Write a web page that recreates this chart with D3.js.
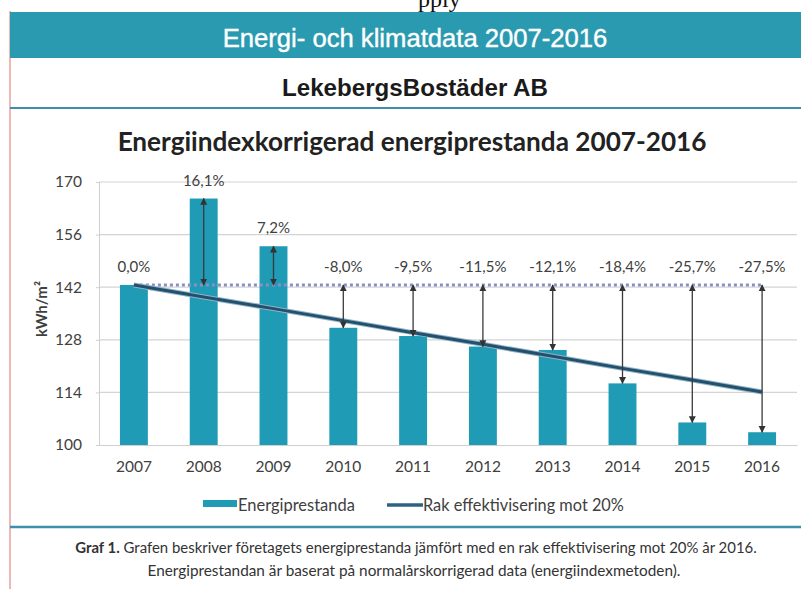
<!DOCTYPE html>
<html>
<head>
<meta charset="utf-8">
<script src="https://cdn.jsdelivr.net/npm/d3@7"></script>
<style>
  body { margin: 0; background: #fff; }
  svg { display: block; }
</style>
</head>
<body>
<svg></svg>
<script>
var w = 801;
var h = 589;

// data
var years = ["2007", "2008", "2009", "2010", "2011", "2012", "2013", "2014", "2015", "2016"];
var energi = [142.6, 165.6, 152.9, 131.2, 129.0, 126.2, 125.3, 116.4, 106.0, 103.4];
var rak = [142.6, 139.4, 136.3, 133.1, 129.9, 126.8, 123.6, 120.4, 117.3, 114.1];
var pctLabels = ["0,0%", "16,1%", "7,2%", "-8,0%", "-9,5%", "-11,5%", "-12,1%", "-18,4%", "-25,7%", "-27,5%"];
var yTicks = [100, 114, 128, 142, 156, 170];
var baseValue = 142.6;

var teal = "#1f9bb5";
var band = "#2a9ab0";
var dark = "#404040";
var calibri = "Lato, 'Open Sans', sans-serif";

var svg = d3.select("svg")
    .attr("width", w)
    .attr("height", h);

// shrink/grow a text until it has the wanted width
function fit(sel, width) {
  var fs = parseFloat(sel.style("font-size"));
  var len = sel.node().getComputedTextLength();
  sel.style("font-size", (fs * width / len) + "px");
}

// scanned page fragment on top (cut by the page edge like in the scan)
svg.append("text")
    .attr("x", 418)
    .attr("y", 7)
    .style("font-family", "'Liberation Serif', serif")
    .style("font-size", "24px")
    .style("fill", "#111")
    .text("pply");

// page border left
svg.append("line")
    .attr("x1", 10).attr("x2", 10)
    .attr("y1", 11).attr("y2", h)
    .style("stroke", "#e8a0a0")
    .style("stroke-width", 1.5);

// header band
svg.append("rect")
    .attr("x", 10).attr("y", 12)
    .attr("width", w - 10).attr("height", 46)
    .style("fill", band);

var head = svg.append("text")
    .attr("x", 415).attr("y", 47)
    .attr("text-anchor", "middle")
    .style("font-family", "'Liberation Sans', Arial, sans-serif")
    .style("font-size", "22px")
    .style("fill", "#fff")
    .style("stroke", "#fff")
    .style("stroke-width", 0.4)
    .text("Energi- och klimatdata 2007-2016");
fit(head, 385);

var company = svg.append("text")
    .attr("x", 415).attr("y", 96)
    .attr("text-anchor", "middle")
    .style("font-family", "'Liberation Sans', Arial, sans-serif")
    .style("font-weight", "bold")
    .style("font-size", "21px")
    .style("fill", "#1a1a1a")
    .text("LekebergsBostäder AB");
fit(company, 266);

svg.append("line")
    .attr("x1", 10).attr("x2", w)
    .attr("y1", 108).attr("y2", 108)
    .style("stroke", "#3d8fab")
    .style("stroke-width", 2);

var title = svg.append("text")
    .attr("x", 412).attr("y", 151)
    .attr("text-anchor", "middle")
    .style("font-family", calibri)
    .style("font-weight", "bold")
    .style("font-size", "24px")
    .style("fill", "#222")
    .text("Energiindexkorrigerad energiprestanda 2007-2016");
fit(title, 589);

// scales
var xScale = d3.scaleBand()
    .domain(years)
    .range([99, 797])
    .paddingInner(0.6)
    .paddingOuter(0.3);

var yScale = d3.scaleLinear()
    .domain([100, 170])
    .range([445, 182]);

function cx(d) { return xScale(d) + xScale.bandwidth() / 2; }

// gridlines
svg.append("g")
    .selectAll("line")
    .data(yTicks.slice(1))
    .join("line")
    .attr("x1", 99).attr("x2", 797)
    .attr("y1", function (d) { return yScale(d); })
    .attr("y2", function (d) { return yScale(d); })
    .style("stroke", "#d4d4d4")
    .style("stroke-width", 1.2);

// y axis
var yAxis = d3.axisLeft(yScale)
    .tickValues(yTicks)
    .tickSize(3)
    .tickPadding(14);
var gy = svg.append("g")
    .attr("transform", "translate(99,0)")
    .call(yAxis);
gy.select(".domain").style("stroke", "#cfcfcf");
gy.selectAll(".tick line").style("stroke", "#cfcfcf");
gy.selectAll(".tick text")
    .style("font-family", calibri)
    .style("font-size", "15.5px")
    .style("fill", dark);

// x axis
var xAxis = d3.axisBottom(xScale)
    .tickSize(0)
    .tickPadding(16);
var gx = svg.append("g")
    .attr("transform", "translate(0,445)")
    .call(xAxis);
gx.select(".domain").style("stroke", "#cfcfcf");
gx.selectAll(".tick text")
    .style("font-family", calibri)
    .style("font-size", "15.5px")
    .style("fill", dark);

// bars
svg.append("g")
    .selectAll("rect")
    .data(years)
    .join("rect")
    .attr("x", function (d) { return xScale(d); })
    .attr("width", xScale.bandwidth())
    .attr("y", function (d, i) { return yScale(energi[i]); })
    .attr("height", function (d, i) { return yScale(100) - yScale(energi[i]); })
    .style("fill", teal);

// baseline 2007 level (dotted)
svg.append("line")
    .attr("x1", cx(years[0]))
    .attr("x2", cx(years[years.length - 1]))
    .attr("y1", yScale(baseValue))
    .attr("y2", yScale(baseValue))
    .style("stroke", "#8c8fc2")
    .style("stroke-width", 3)
    .style("stroke-dasharray", "3,3");

// straight efficiency line
var line = d3.line()
    .x(function (d, i) { return cx(years[i]); })
    .y(function (d) { return yScale(d); });

svg.append("path")
    .datum(rak)
    .attr("d", line)
    .style("fill", "none")
    .style("stroke", "#8fb4c6")
    .style("stroke-width", 5);
svg.append("path")
    .datum(rak)
    .attr("d", line)
    .style("fill", "none")
    .style("stroke", "#24506d")
    .style("stroke-width", 3);

// arrow markers
var defs = svg.append("defs");
defs.append("marker")
    .attr("id", "head")
    .attr("viewBox", "0 0 10 10")
    .attr("refX", 9).attr("refY", 5)
    .attr("markerWidth", 7).attr("markerHeight", 8)
    .attr("markerUnits", "userSpaceOnUse")
    .attr("orient", "auto-start-reverse")
    .append("path")
    .attr("d", "M0,0L10,5L0,10Z")
    .style("fill", "#333");

svg.append("g")
    .selectAll("line")
    .data(years.slice(1))
    .join("line")
    .attr("x1", function (d) { return cx(d); })
    .attr("x2", function (d) { return cx(d); })
    .attr("y1", yScale(baseValue))
    .attr("y2", function (d, i) { return yScale(energi[i + 1]); })
    .attr("marker-start", "url(#head)")
    .attr("marker-end", "url(#head)")
    .style("stroke", "#3a3a3a")
    .style("stroke-width", 1.3);

// percentage labels
svg.append("g")
    .selectAll("text")
    .data(years)
    .join("text")
    .attr("x", function (d) { return cx(d); })
    .attr("y", function (d, i) { return yScale(Math.max(energi[i], baseValue)) - 13; })
    .attr("text-anchor", "middle")
    .style("font-family", calibri)
    .style("font-size", "15px")
    .style("fill", dark)
    .text(function (d, i) { return pctLabels[i]; });

// y axis title
svg.append("text")
    .attr("transform", "translate(47,309) rotate(-90)")
    .attr("text-anchor", "middle")
    .style("font-family", calibri)
    .style("font-weight", "bold")
    .style("font-size", "15px")
    .style("fill", dark)
    .text("kWh/m²");

// legend
svg.append("rect")
    .attr("x", 203).attr("y", 500)
    .attr("width", 34).attr("height", 7)
    .style("fill", teal);
var l1 = svg.append("text")
    .attr("x", 238).attr("y", 511)
    .style("font-family", calibri)
    .style("font-size", "15px")
    .style("fill", dark)
    .text("Energiprestanda");
fit(l1, 117);

svg.append("line")
    .attr("x1", 387).attr("x2", 423)
    .attr("y1", 505).attr("y2", 505)
    .style("stroke", "#2e6283")
    .style("stroke-width", 3.5);
var l2 = svg.append("text")
    .attr("x", 423).attr("y", 511)
    .style("font-family", calibri)
    .style("font-size", "15px")
    .style("fill", dark)
    .text("Rak effektivisering mot 20%");
fit(l2, 201);

// bottom rule and caption
svg.append("line")
    .attr("x1", 10).attr("x2", w)
    .attr("y1", 527).attr("y2", 527)
    .style("stroke", "#3d8fab")
    .style("stroke-width", 2.5);

var cap1 = svg.append("text")
    .attr("x", 416).attr("y", 553)
    .attr("text-anchor", "middle")
    .style("font-family", calibri)
    .style("font-size", "13px")
    .style("fill", "#333");
cap1.append("tspan")
    .style("font-weight", "bold")
    .text("Graf 1.");
cap1.append("tspan")
    .text(" Grafen beskriver företagets energiprestanda jämfört med en rak effektivisering mot 20% år 2016.");
fit(cap1, 682);

var cap2 = svg.append("text")
    .attr("x", 414).attr("y", 576)
    .attr("text-anchor", "middle")
    .style("font-family", calibri)
    .style("font-size", "13px")
    .style("fill", "#333")
    .text("Energiprestandan är baserat på normalårskorrigerad data (energiindexmetoden).");
fit(cap2, 533);
</script>
</body>
</html>
